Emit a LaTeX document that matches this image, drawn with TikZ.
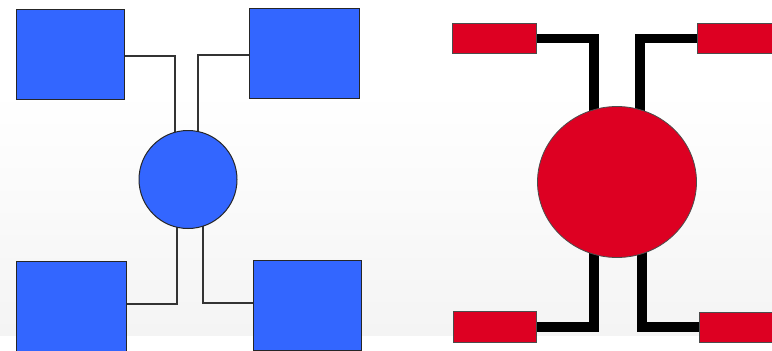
\documentclass[tikz,border=0pt]{standalone}
\usetikzlibrary{shapes.geometric}
\definecolor{bluef}{RGB}{51,102,255}
\definecolor{redf}{RGB}{221,0,34}
\definecolor{bgbot}{RGB}{244,244,244}
\pgfdeclarelayer{bg}
\pgfdeclarelayer{wires}
\pgfsetlayers{bg,wires,main}
\tikzset{
  bbox/.style={draw=black!85, line width=1pt, fill=bluef, inner sep=0pt},
  rbox/.style={draw=black!70, line width=0.8pt, fill=redf, inner sep=0pt},
  thin wire/.style={draw=black!80, line width=1.1pt},
  thick wire/.style={draw=black, line width=9.5pt, line join=miter},
}
\begin{document}
\begin{tikzpicture}[x=1pt,y=-1pt]
\useasboundingbox (0,0) rectangle (772,351);
\clip (0,0) rectangle (772,351);
\begin{pgfonlayer}{bg}
  \fill[white] (0,0) rectangle (772,351);
  \shade[top color=white, bottom color=bgbot] (0,90) rectangle (772,335);
\end{pgfonlayer}
% blue picture
\node[bbox, minimum width=108pt, minimum height=90pt] (btl) at (70,54) {};
\node[bbox, minimum width=110pt, minimum height=90pt] (btr) at (304,53) {};
\node[bbox, minimum width=110pt, minimum height=100pt] (bbl) at (71,311) {};
\node[bbox, minimum width=108pt, minimum height=90pt] (bbr) at (307,305) {};
\node[bbox, circle, minimum size=98pt] (bc) at (188,179.5) {};
\begin{pgfonlayer}{wires}
  \draw[thin wire] ([xshift=-13pt]bc.center) |- ([yshift=-2pt]btl.east);
  \draw[thin wire] ([xshift=10pt]bc.center) |- ([yshift=-2pt]btr.west);
  \draw[thin wire] ([xshift=-11pt]bc.center) |- ([yshift=7pt]bbl.east);
  \draw[thin wire] ([xshift=15pt]bc.center) |- ([yshift=2pt]bbr.west);
\end{pgfonlayer}
% red picture
\node[rbox, minimum width=84pt, minimum height=30pt] (rtl) at (494.5,38.5) {};
\node[rbox, minimum width=84pt, minimum height=30pt] (rtr) at (739,38.5) {};
\node[rbox, minimum width=83pt, minimum height=31pt] (rbl) at (495,327) {};
\node[rbox, minimum width=84pt, minimum height=30pt] (rbr) at (741.3,327) {};
\node[rbox, ellipse, minimum width=159pt, minimum height=151pt] (re) at (617,182) {};
\begin{pgfonlayer}{wires}
  \draw[thick wire] ([xshift=-23pt]re.center) |- (rtl.east);
  \draw[thick wire] ([xshift=23pt]re.center) |- (rtr.west);
  \draw[thick wire] ([xshift=-23pt]re.center) |- (rbl.east);
  \draw[thick wire] ([xshift=25pt]re.center) |- (rbr.west);
\end{pgfonlayer}
\end{tikzpicture}
\end{document}
